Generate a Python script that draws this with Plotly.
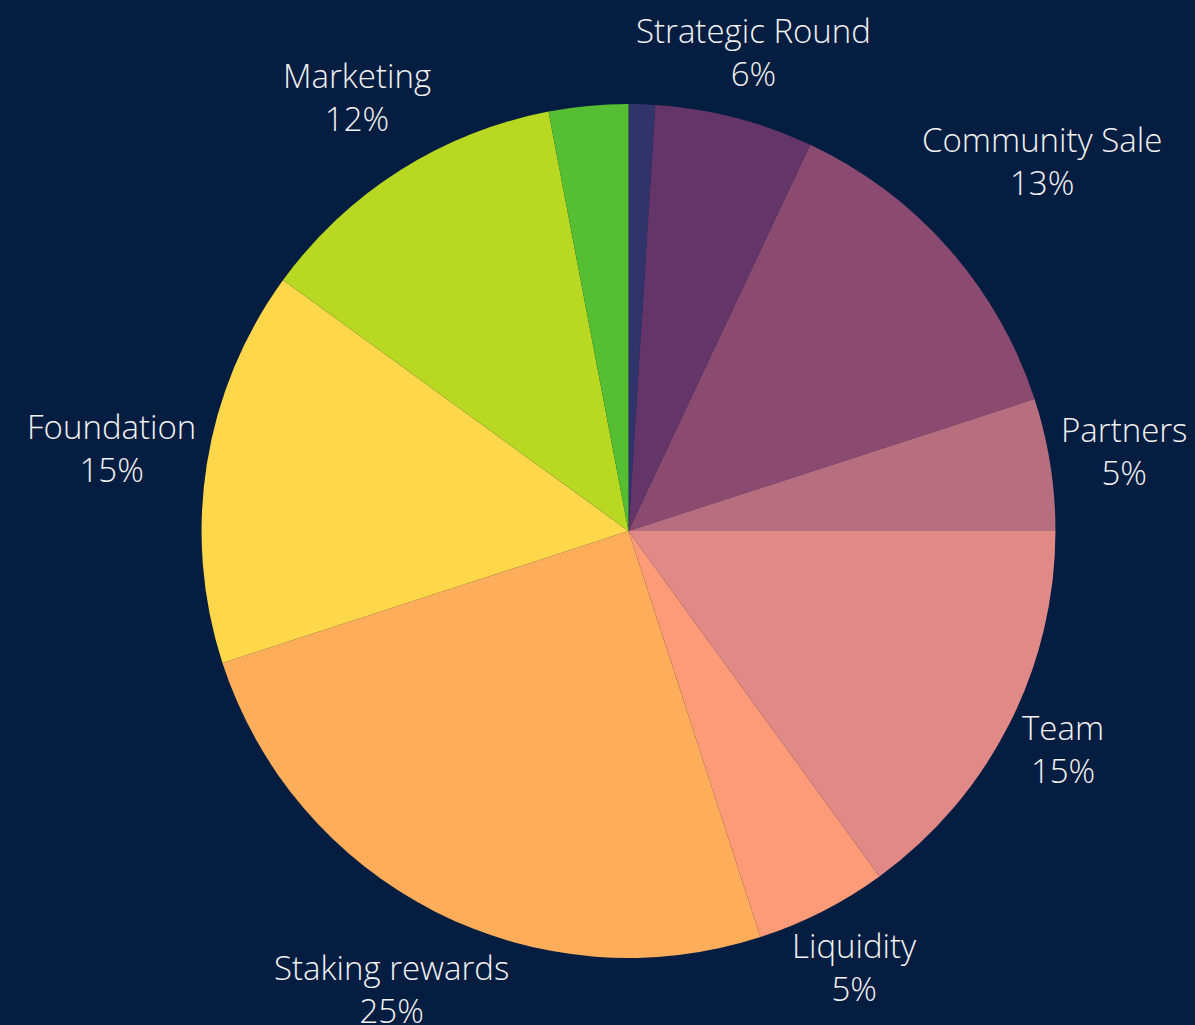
import math
import plotly.graph_objects as go

# ---- data ----
labels = ["Seed Round", "Strategic Round", "Community Sale", "Partners", "Team",
          "Liquidity", "Staking rewards", "Foundation", "Marketing", "Advisors"]
values = [1, 6, 13, 5, 15, 5, 25, 15, 12, 3]
show_label = [False, True, True, True, True, True, True, True, True, False]
colors = ["#30346a", "#633569", "#8b4b71", "#b76f80", "#e08987",
          "#fd9a78", "#feae5a", "#fed74b", "#b8d822", "#56be32"]

# ---- layout constants ----
W, H = 1195, 1025
BG = "#041d40"
TEXT = "#f2f2f2"
FONT = "Open Sans"
FSIZE = 33
dom_x = [0.0957, 0.9562]
dom_y = [0.0654, 0.8985]

# approximate glyph advance widths (em) used to size the label boxes
GLYPH_EM = {" ": .26, "S": .547, "t": .339, "r": .408, "a": .556, "e": .561, "g": .49,
            "i": .253, "c": .476, "R": .604, "o": .604, "u": .614, "n": .614, "d": .604,
            "C": .635, "m": .93, "y": .501, "P": .586, "T": .537, "L": .507, "q": .604,
            "k": .504, "w": .776, "s": .477, "F": .528, "M": .89, "l": .253}


def text_width(s):
    return sum(GLYPH_EM.get(ch, .55) for ch in s) * FSIZE * 0.975


fig = go.Figure(go.Pie(
    labels=labels,
    values=values,
    sort=False,
    direction="clockwise",
    rotation=0,
    marker=dict(colors=colors, line=dict(width=0)),
    textinfo="none",
    hoverinfo="label+percent",
    domain=dict(x=dom_x, y=dom_y),
    showlegend=False,
))

# label placement: outside each slice along its mid-angle
cx = W * (dom_x[0] + dom_x[1]) / 2
cy = H * (1 - (dom_y[0] + dom_y[1]) / 2)
r = min(W * (dom_x[1] - dom_x[0]), H * (dom_y[1] - dom_y[0])) / 2
total = sum(values)
box_h = 80
offset = 6
lift = 8          # px, labels sit slightly above the radial line (scaled by |vy|)
top_limit = 52    # px, keep labels inside the canvas

annotations = []
cum = 0
for lab, val, show in zip(labels, values, show_label):
    mid = (cum + val / 2) / total * 2 * math.pi
    cum += val
    if not show:
        continue
    vx, vy = math.sin(mid), -math.cos(mid)
    w = text_width(lab)
    d = r + offset + abs(vx) * w / 2 + abs(vy) * box_h / 2
    px, py = cx + d * vx, cy + d * vy - lift * abs(vy)
    py = max(py, top_limit)
    pct = round(val / total * 100)
    annotations.append(dict(
        x=px / W, y=1 - py / H, xref="paper", yref="paper",
        text=f"{lab}<br>{pct}%", showarrow=False,
        xanchor="center", yanchor="middle", align="center",
        font=dict(family=FONT, size=FSIZE, color=TEXT, weight=300),
    ))

fig.update_layout(
    width=W, height=H,
    margin=dict(l=0, r=0, t=0, b=0),
    paper_bgcolor=BG, plot_bgcolor=BG,
    annotations=annotations,
    font=dict(family=FONT, color=TEXT),
)

fig.write_html("out.html", config={"displayModeBar": False},
               post_script="document.body.style.margin='0';document.body.style.overflow='hidden';")
